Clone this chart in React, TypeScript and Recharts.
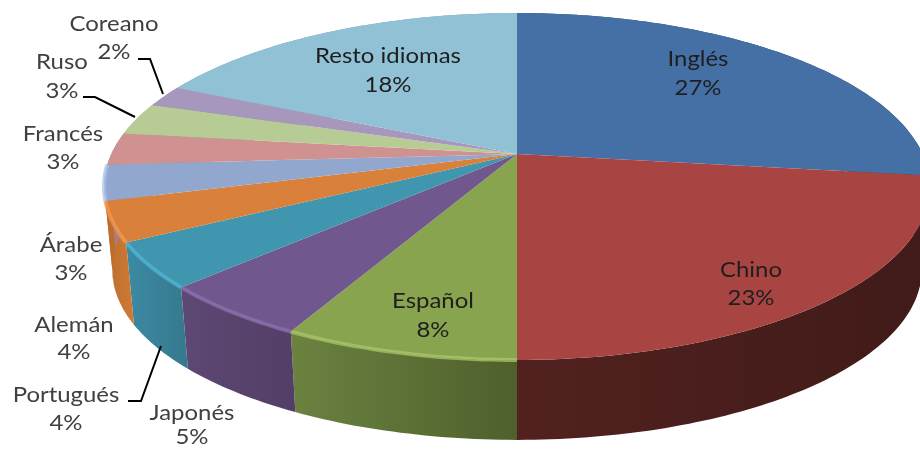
import { PieChart, Pie } from 'recharts';

const idiomas = ['Inglés', 'Chino', 'Español', 'Japonés', 'Portugués', 'Alemán', 'Árabe', 'Francés', 'Ruso', 'Coreano', 'Resto idiomas'];
const porcentajes = [27, 23, 7.7, 5.1, 4.2, 3.7, 3.3, 3, 3, 2, 18];

const colores = ['#4470A6', '#A84543', '#88A44E', '#70578D', '#4096AE', '#D9813B', '#92A7CE', '#D09291', '#B7CC94', '#A897BC', '#90C1D4'];
const paredIzq = ['#2c4a70', '#52211F', '#6B8240', '#5E4874', '#3B8AA3', '#BC6D2E', '#BC6D2E', '#b07c7b', '#9cb07e', '#8f80a2', '#7aa5b6'];
const paredDer = ['#2c4a70', '#401B19', '#4E602C', '#523E66', '#37788E', '#D07A35', '#BC6D2E', '#b07c7b', '#9cb07e', '#8f80a2', '#7aa5b6'];
const brillos = ['none', 'none', '#A9C66A', '#8C6FAE', '#4FB4D2', '#F59A4E', '#A9C3EC', 'none', 'none', 'none', 'none'];

// donde va cada etiqueta: centro x, y de las dos lineas
const etiquetas = [
  [698, 66, 95], [751, 277, 305], [433, 308, 337], [192, 420, 444], [66, 402, 430], [74, 332, 359],
  [71, 252, 280], [63, 141, 169], [62, 69, 98], [114, 31, 59], [388, 63, 92],
];
const guias: Record<number, string> = {
  4: '128,401 141,401 161,346',
  8: '83,97 95,97 135,117',
  9: '138,59 150,59 163,94',
};

const datos = idiomas.map((name, idx) => ({ name, value: porcentajes[idx], idx }));

// perspectiva del disco
const K = 0.1873;
const ESCALA_Y = 0.4126;
const BASE_X = 0.98;
const BASE_Y = 84;

function punto(cx: number, cy: number, r: number, deg: number, base = false) {
  const a = (deg * Math.PI) / 180;
  const u = Math.cos(a);
  const v = -Math.sin(a);
  const w = 1 - K * v;
  const x = (r * u) / w;
  const y = (r * ESCALA_Y * v) / w;
  return base ? [cx + x * BASE_X, cy + y * BASE_X + BASE_Y] : [cx + x, cy + y];
}

function arco(cx: number, cy: number, r: number, a0: number, a1: number, base = false) {
  const n = Math.max(2, Math.ceil(Math.abs(a1 - a0)));
  const pts = [];
  for (let i = 0; i <= n; i++) pts.push(punto(cx, cy, r, a0 + ((a1 - a0) * i) / n, base));
  return pts;
}

const ruta = (pts: number[][]) => pts.map((p, i) => `${i ? 'L' : 'M'}${p[0].toFixed(1)},${p[1].toFixed(1)}`).join(' ');

function Pared(props: any) {
  const { cx, cy, outerRadius, startAngle, endAngle, payload } = props;
  const i = payload.idx;
  const arriba = arco(cx, cy, outerRadius, startAngle, endAngle);
  const abajo = arco(cx, cy, outerRadius, endAngle, startAngle, true);
  return (
    <g>
      <linearGradient id={`pared${i}`} x1="0" y1="0" x2="1" y2="0">
        <stop offset="0%" stopColor={paredIzq[i]} />
        <stop offset="100%" stopColor={paredDer[i]} />
      </linearGradient>
      <path d={`${ruta(arriba)} ${ruta(abajo).replace('M', 'L')} Z`} fill={`url(#pared${i})`} />
    </g>
  );
}

function Cara(props: any) {
  const { cx, cy, outerRadius, startAngle, endAngle, payload } = props;
  const i = payload.idx;
  const borde = arco(cx, cy, outerRadius, startAngle, endAngle);
  return (
    <g>
      <path d={`M${cx},${cy} ${ruta(borde).replace('M', 'L')} Z`} fill={colores[i]} />
      {brillos[i] !== 'none' && <path d={ruta(borde)} fill="none" stroke={brillos[i]} strokeWidth={4} strokeOpacity={0.75} />}
    </g>
  );
}

// el texto del original esta algo estirado a lo ancho
function Texto({ x, y, color, children }: any) {
  return (
    <text
      transform={`translate(${x} ${y}) scale(1.14 1)`}
      textAnchor="middle"
      fill={color}
      style={{ fontFamily: 'Lato', fontSize: 21 }}
    >
      {children}
    </text>
  );
}

function Etiqueta(props: any) {
  const i = props.index;
  const [x, y1, y2] = etiquetas[i];
  const color = [0, 1, 2, 10].includes(i) ? '#1E1E1E' : '#404040';
  return (
    <g>
      <Texto x={x} y={y1} color={color}>{idiomas[i]}</Texto>
      <Texto x={x} y={y2} color={color}>{Math.round(porcentajes[i])}%</Texto>
      {guias[i] && <polyline points={guias[i]} fill="none" stroke="#000" strokeWidth={2} />}
    </g>
  );
}

export default function App() {
  return (
    <div style={{ position: 'absolute', left: 0, top: 0, width: 920, height: 449, background: '#fff', overflow: 'hidden', filter: 'blur(0.4px)' }}>
      <PieChart width={920} height={449} margin={{ top: 0, right: 0, bottom: 0, left: 0 }}>
        <Pie
          data={datos}
          dataKey="value"
          cx={517}
          cy={154}
          outerRadius={405.7}
          startAngle={90}
          endAngle={-270}
          stroke="none"
          shape={Pared}
          isAnimationActive={false}
        />
        <Pie
          data={datos}
          dataKey="value"
          cx={517}
          cy={154}
          outerRadius={405.7}
          startAngle={90}
          endAngle={-270}
          stroke="none"
          shape={Cara}
          label={Etiqueta}
          labelLine={false}
          isAnimationActive={false}
        />
      </PieChart>
    </div>
  );
}
